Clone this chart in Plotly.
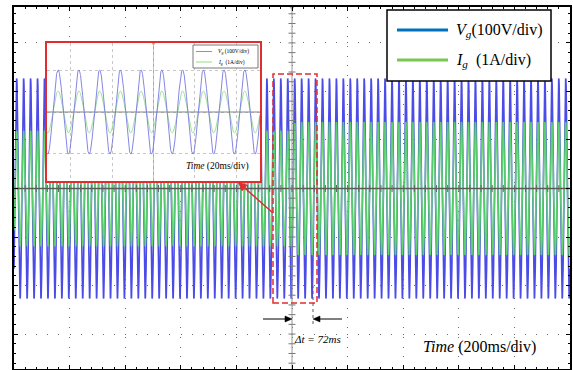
import numpy as np
import plotly.graph_objects as go

# ---------------- values ----------------
# main record: 10 divisions of 200 ms
main_time_range_ms = [0, 2000]
main_ms_per_div = 200
main_vert_range_div = [-3.72, 3.74]
v_per_div = 100            # Vg scale (V/div)
a_per_div = 1              # Ig scale (A/div)
main_freq_hz = 40          # apparent frequency of the compressed trace
main_cycles = 80
vg_peak_v = 227
ig_peak_before_a = 1.19
ig_peak_after_a = 1.37
ig_step_ms = 1010
main_trough_ms = 22

# inset: 20 ms/div zoom
inset_time_range_ms = [-102.7, 102.7]
inset_grid_ms = 40
inset_vert_range_div = [-3.36, 3.36]
inset_freq_hz = 50
inset_vg_peak_v = 205
inset_ig_peak_a = 1.02
inset_peak_ms = 8

legend_labels = ["<i>V</i><sub><i>g</i></sub>(100V/div)", "<i>I</i><sub><i>g</i></sub>&nbsp; (1A/div)"]
inset_legend_labels = ["<i>V</i><sub><i>g</i></sub> (100V/div)", "<i>I</i><sub><i>g</i></sub>  (1A/div)"]
main_time_label = "<i>Time</i> (200ms/div)"
inset_time_label = "<i>Time</i> (20ms/div)"
dt_label = "<i>Δt = 72ms</i>"

# ---------------- layout geometry (pixels) ----------------
W, H = 573, 370
L, R, T, B = 14, 570, 7, 369


def px(x):
    return (x - L) / (R - L)


def py(y):
    return (B - y) / (B - T)


def arrow_shapes(tail, tip, color, width, head_len, head_half):
    """Line + filled triangular head, given pixel positions."""
    tx, ty = tail
    hx, hy = tip
    d = np.hypot(hx - tx, hy - ty)
    ux, uy = (hx - tx) / d, (hy - ty) / d
    bx, by = hx - head_len * ux, hy - head_len * uy
    nx, ny = -uy, ux
    c1 = (bx + head_half * nx, by + head_half * ny)
    c2 = (bx - head_half * nx, by - head_half * ny)
    path = "M {} {} L {} {} L {} {} Z".format(px(hx), py(hy), px(c1[0]), py(c1[1]), px(c2[0]), py(c2[1]))
    return [
        dict(type="line", xref="paper", yref="paper", x0=px(tx), y0=py(ty), x1=px(bx), y1=py(by),
             line=dict(color=color, width=width)),
        dict(type="path", xref="paper", yref="paper", path=path, fillcolor=color,
             line=dict(color=color, width=0.5)),
    ]


SERIF = "Liberation Serif"
BLUE_MAIN = "rgb(75,75,232)"
GREEN_MAIN = "rgb(90,225,90)"
LEG_BLUE = "rgb(0,114,189)"
LEG_GREEN = "rgb(119,200,80)"
RED = "rgb(225,45,45)"

# ---------------- waveforms ----------------
t = np.linspace(main_time_range_ms[0], main_time_range_ms[1], main_cycles * 32 + 1)
phase = 2 * np.pi * main_freq_hz * (t - main_trough_ms) / 1000.0
vg = -vg_peak_v * np.cos(phase)
ig_amp = np.where(t < ig_step_ms, ig_peak_before_a, ig_peak_after_a)
ig = -ig_amp * np.cos(phase)

ti = np.linspace(inset_time_range_ms[0], inset_time_range_ms[1], 1200)
phase_i = 2 * np.pi * inset_freq_hz * (ti - inset_peak_ms) / 1000.0
vg_i = inset_vg_peak_v * np.cos(phase_i)
ig_i = inset_ig_peak_a * np.cos(phase_i)

fig = go.Figure()

# main traces
fig.add_trace(go.Scatter(x=t, y=vg / v_per_div, mode="lines", name="Vg",
                         line=dict(color=BLUE_MAIN, width=1.6), showlegend=False,
                         xaxis="x", yaxis="y"))
fig.add_trace(go.Scatter(x=t, y=ig / a_per_div, mode="lines", name="Ig",
                         line=dict(color=GREEN_MAIN, width=1.6), opacity=0.85, showlegend=False,
                         xaxis="x", yaxis="y"))

# main crosshair
tc = (main_time_range_ms[0] + main_time_range_ms[1]) / 2
fig.add_trace(go.Scatter(x=[tc, tc], y=main_vert_range_div, mode="lines",
                         line=dict(color="rgb(150,150,150)", width=1), showlegend=False, hoverinfo="skip"))
fig.add_trace(go.Scatter(x=main_time_range_ms, y=[0, 0], mode="lines",
                         line=dict(color="rgb(90,90,90)", width=1.3), showlegend=False, hoverinfo="skip"))
yt = np.round(np.arange(-3.6, 3.61, 0.2), 2)
fig.add_trace(go.Scatter(x=[tc] * len(yt), y=yt, mode="markers",
                         marker=dict(symbol="line-ew", size=5, line=dict(color="rgb(120,120,120)", width=1)),
                         showlegend=False, hoverinfo="skip"))
xt = np.arange(40, 2000, 40)
fig.add_trace(go.Scatter(x=xt, y=[0] * len(xt), mode="markers",
                         marker=dict(symbol="line-ns", size=5, line=dict(color="rgb(100,100,100)", width=1)),
                         showlegend=False, hoverinfo="skip"))
fig.add_trace(go.Scatter(x=[tc], y=[main_vert_range_div[1]], mode="markers",
                         marker=dict(symbol="triangle-down", size=6, color="rgb(245,150,30)"),
                         cliponaxis=False, showlegend=False, hoverinfo="skip"))

# inset traces
fig.add_trace(go.Scatter(x=[0, 0], y=inset_vert_range_div, mode="lines", xaxis="x2", yaxis="y2",
                         line=dict(color="rgb(170,170,170)", width=1, dash="dot"), showlegend=False))
fig.add_trace(go.Scatter(x=inset_time_range_ms, y=[0, 0], mode="lines", xaxis="x2", yaxis="y2",
                         line=dict(color="rgb(130,130,130)", width=1), showlegend=False))
fig.add_trace(go.Scatter(x=ti, y=ig_i / a_per_div, mode="lines", xaxis="x2", yaxis="y2",
                         line=dict(color="rgb(150,220,150)", width=0.9), showlegend=False))
fig.add_trace(go.Scatter(x=ti, y=vg_i / v_per_div, mode="lines", xaxis="x2", yaxis="y2",
                         line=dict(color="rgb(120,120,225)", width=0.9), showlegend=False))
fig.add_trace(go.Scatter(x=[0], y=[inset_vert_range_div[1]], mode="markers", xaxis="x2", yaxis="y2",
                         marker=dict(symbol="triangle-down", size=5, color="rgb(245,150,30)"),
                         cliponaxis=False, showlegend=False))

grid_col = "rgb(110,110,110)"
fig.update_layout(
    width=W, height=H,
    margin=dict(l=L, r=W - R, t=T, b=H - B, pad=0),
    paper_bgcolor="white", plot_bgcolor="white",
    showlegend=False,
    xaxis=dict(domain=[0, 1], range=main_time_range_ms, dtick=main_ms_per_div, tick0=0,
               showgrid=True, gridcolor=grid_col, griddash="1px,8.7px", gridwidth=1,
               showticklabels=False, ticks="inside", ticklen=4, tickcolor="black",
               minor=dict(dtick=40, ticks="inside", ticklen=2.5, tickcolor="black", showgrid=False),
               showline=True, linecolor="black", linewidth=1.5, mirror="ticks", zeroline=False),
    yaxis=dict(domain=[0, 1], range=main_vert_range_div, dtick=1, tick0=0,
               showgrid=True, gridcolor=grid_col, griddash="1px,10.1px", gridwidth=1,
               showticklabels=False, ticks="inside", ticklen=4, tickcolor="black",
               minor=dict(dtick=0.2, ticks="inside", ticklen=2.5, tickcolor="black", showgrid=False),
               showline=True, linecolor="black", linewidth=1.5, mirror="ticks", zeroline=False),
    xaxis2=dict(domain=[px(47), px(260)], range=inset_time_range_ms, anchor="y2",
                dtick=inset_grid_ms, tick0=0, showgrid=True, gridcolor="rgb(200,200,200)",
                griddash="dot", showticklabels=False, ticks="",
                showline=True, linecolor=RED, linewidth=1.6, mirror=True, zeroline=False),
    yaxis2=dict(domain=[py(181), py(43)], range=inset_vert_range_div, anchor="x2",
                dtick=2, tick0=0, showgrid=True, gridcolor="rgb(200,200,200)",
                griddash="dot", showticklabels=False, ticks="",
                showline=True, linecolor=RED, linewidth=1.6, mirror=True, zeroline=False),
)

shapes = []
# red dashed selection box
shapes.append(dict(type="rect", xref="paper", yref="paper", x0=px(273), x1=px(317), y0=py(303), y1=py(74),
                   line=dict(color=RED, width=1.5, dash="6px,3px")))
# dotted marker of the end of the transient
shapes.append(dict(type="line", xref="paper", yref="paper", x0=px(313), x1=px(313), y0=py(324), y1=py(286),
                   line=dict(color="rgb(90,90,90)", width=1, dash="dot")))
# main legend box
shapes.append(dict(type="rect", xref="paper", yref="paper", x0=px(387), x1=px(551), y0=py(81), y1=py(10),
                   line=dict(color="black", width=1.5), fillcolor="white"))
shapes.append(dict(type="line", xref="paper", yref="paper", x0=px(397), x1=px(448), y0=py(30), y1=py(30),
                   line=dict(color=LEG_BLUE, width=3)))
shapes.append(dict(type="line", xref="paper", yref="paper", x0=px(397), x1=px(448), y0=py(60), y1=py(60),
                   line=dict(color=LEG_GREEN, width=3)))
# inset legend box
shapes.append(dict(type="rect", xref="paper", yref="paper", x0=px(193), x1=px(258), y0=py(68), y1=py(45),
                   line=dict(color="rgb(120,120,120)", width=1), fillcolor="white"))
shapes.append(dict(type="line", xref="paper", yref="paper", x0=px(196), x1=px(212), y0=py(51.5), y1=py(51.5),
                   line=dict(color="rgb(120,150,220)", width=1)))
shapes.append(dict(type="line", xref="paper", yref="paper", x0=px(196), x1=px(212), y0=py(62), y1=py(62),
                   line=dict(color="rgb(150,220,120)", width=1)))
# arrows
shapes += arrow_shapes((273, 213), (238, 182), RED, 1.5, 9, 4)
shapes += arrow_shapes((263, 319), (292, 319), "black", 1, 7, 3)
shapes += arrow_shapes((342, 319), (313, 319), "black", 1, 7, 3)
fig.update_layout(shapes=shapes)

ann = []
ann.append(dict(xref="paper", yref="paper", x=px(454), y=py(30), text=legend_labels[0], showarrow=False,
                xanchor="left", yanchor="middle", font=dict(family=SERIF, size=16, color="black")))
ann.append(dict(xref="paper", yref="paper", x=px(454), y=py(60), text=legend_labels[1], showarrow=False,
                xanchor="left", yanchor="middle", font=dict(family=SERIF, size=16, color="black")))
ann.append(dict(xref="paper", yref="paper", x=px(216), y=py(51.5), text=inset_legend_labels[0], showarrow=False,
                xanchor="left", yanchor="middle", font=dict(family=SERIF, size=5.5, color="black")))
ann.append(dict(xref="paper", yref="paper", x=px(216), y=py(62), text=inset_legend_labels[1], showarrow=False,
                xanchor="left", yanchor="middle", font=dict(family=SERIF, size=5.5, color="black")))
ann.append(dict(xref="paper", yref="paper", x=px(479.5), y=py(347), text=main_time_label, showarrow=False,
                xanchor="center", yanchor="middle", font=dict(family=SERIF, size=16, color="black")))
ann.append(dict(xref="paper", yref="paper", x=px(217.5), y=py(166), text=inset_time_label, showarrow=False,
                xanchor="center", yanchor="middle", font=dict(family=SERIF, size=9.5, color="black")))
ann.append(dict(xref="paper", yref="paper", x=px(317.5), y=py(339), text=dt_label, showarrow=False,
                xanchor="center", yanchor="middle", font=dict(family=SERIF, size=11, color="black")))
fig.update_layout(annotations=ann)

fig.write_html("out.html")
